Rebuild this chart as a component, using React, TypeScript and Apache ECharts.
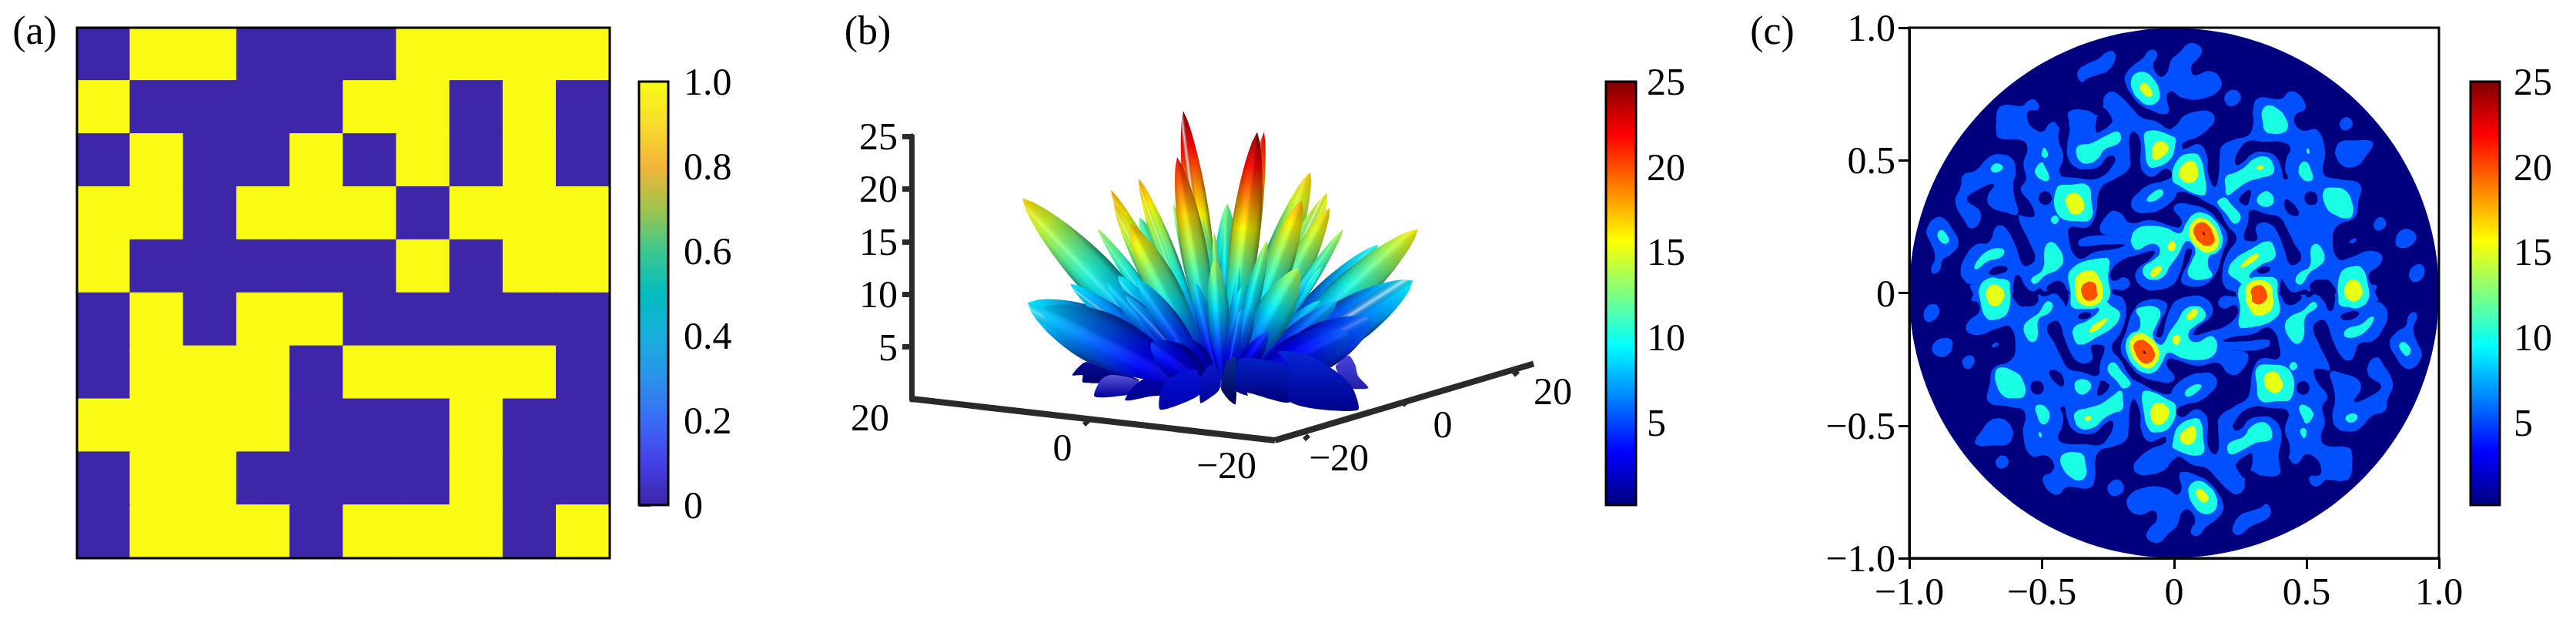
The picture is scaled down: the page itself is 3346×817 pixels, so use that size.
import React, { useEffect, useRef } from "react";
import * as echarts from "echarts";

const FONT = "Liberation Serif";
const INK = "#000000";
const AXIS3D = "#2a2a2a";

/* ---------- panel (a) ---------- */
const matrixRows = [
  [0, 1, 1, 0, 0, 0, 1, 1, 1, 1],
  [1, 0, 0, 0, 0, 1, 1, 0, 1, 0],
  [0, 1, 0, 0, 1, 0, 1, 0, 1, 0],
  [1, 1, 0, 1, 1, 1, 0, 1, 1, 1],
  [1, 0, 0, 0, 0, 0, 1, 0, 1, 1],
  [0, 1, 0, 1, 1, 0, 0, 0, 0, 0],
  [0, 1, 1, 1, 0, 1, 1, 1, 1, 0],
  [1, 1, 1, 1, 0, 0, 0, 1, 0, 0],
  [0, 1, 1, 0, 0, 0, 0, 1, 0, 0],
  [0, 1, 1, 1, 0, 1, 1, 1, 0, 1],
];
const matrixIndex = ["0", "1", "2", "3", "4", "5", "6", "7", "8", "9"];
const cellColors = ["#3e26a8", "#f9fb15"];
const parulaStops: [number, string][] = [
  [0, "#3e26a8"], [0.1, "#4540e8"], [0.2, "#3b6cf5"], [0.3, "#2a93e8"], [0.4, "#18aedb"],
  [0.5, "#03bcbe"], [0.6, "#3cc78f"], [0.7, "#a0c34c"], [0.8, "#f2b53a"], [0.9, "#f8dc2c"], [1, "#f9fb15"],
];
const jetStops: [number, string][] = [
  [0, "#00007f"], [0.125, "#0000ff"], [0.375, "#00ffff"], [0.625, "#ffff00"], [0.875, "#ff0000"], [1, "#7f0000"],
];

/* ---------- panel (b): lobes [projected x, height, width, peak value, gloss], back to front ---------- */
const lobes: number[][] = [
  [1790, 14.7, 40, 10, 0.2], [1842, 16.2, 48, 16, 0.12], [1835, 11.3, 60, 9, 0.6], [1335, 9.2, 70, 9, 0.35],
  [1328, 19.1, 52, 16.5, 0.18], [1480, 17.3, 34, 12, 0.06], [1594, 18.6, 34, 12.5, 0.06], [1537, 27.4, 32, 25, 0.8],
  [1642, 25.4, 26, 23, 0.4], [1524, 18.6, 14, 14, 0.15], [1443, 19.9, 24, 18, 0.2], [1447, 18.6, 30, 17, 0.3],
  [1479, 21, 26, 18, 0.35], [1426, 16.2, 20, 13.5, 0.3], [1702, 21.6, 40, 17, 0.15], [1724, 19.6, 36, 16, 0.5],
  [1727, 18.2, 36, 17, 0.08], [1745, 16.2, 20, 14, 0.2], [1635, 16.2, 12, 13, 0.25], [1562, 17.3, 16, 14, 0.2],
  [1577, 15.9, 14, 14, 0.08], [1593, 17.6, 16, 13, 0.06], [1529, 23, 34, 22, 0.04], [1633, 25.4, 38, 25, 0.03],
  [1691, 18.9, 40, 18, 0.04], [1646, 15.1, 22, 14, 0.03], [1468, 16.7, 42, 17.5, 0.03], [1390, 11, 30, 9, 0.4],
  [1452, 11.8, 30, 9.5, 0.3], [1438, 11.1, 30, 9, 0.12], [1462, 9.9, 20, 8, 0.3], [1478, 11.4, 32, 9, 0.12],
  [1352, 8.7, 68, 8.5, 0.05], [1553, 11.1, 22, 9, 0.08], [1718, 12.7, 16, 11, 0.4], [1708, 12.6, 14, 10, 0.4],
  [1715, 9.4, 30, 9, 0.05], [1737, 9.4, 30, 8, 0.05], [1783, 7.6, 60, 6, 0.25], [1752, 6.3, 60, 5.5, 0.03],
  [1687, 12.5, 48, 14, 0.02], [1578, 13.4, 28, 14, 0.02], [1610, 12.6, 12, 11, 0.03], [1613, 10.7, 22, 10, 0.03],
  [1627, 9.6, 24, 9, 0.03], [1612, 8.6, 14, 8, 0.2], [1647, 6.4, 24, 5, 0.03], [1527, 5.9, 40, 5, 0.03], [1495, 5.4, 45, 4.5, 0.03],
];
/* low fan-shaped petals, read in 3x crop units of the picture; [top colour, bottom colour, outline] */
const fanBack: [string, string, number[][]][] = [
  ["#4a44e0", "#2020a8", [[1245, 375], [1295, 335], [1320, 370], [1332, 415], [1372, 462], [1290, 458], [1250, 395]]],
  ["#0b0b9c", "#00006e", [[218, 412], [275, 360], [480, 430], [440, 440], [260, 440], [258, 412]]],
  ["#5a55d8", "#00009a", [[305, 495], [330, 430], [370, 410], [470, 430], [500, 470], [430, 490]]],
  ["#0505b8", "#00008a", [[425, 510], [450, 465], [490, 430], [590, 390], [600, 480], [520, 495]]],
];
const fanFront: [string, string, number[][]][] = [
  ["#0612d8", "#0000a8", [[560, 545], [565, 470], [620, 410], [700, 390], [720, 480], [640, 525]]],
  ["#0a18c8", "#00009a", [[717, 520], [720, 420], [760, 370], [795, 400], [790, 470], [740, 510]]],
  ["#0a3090", "#00005a", [[800, 440], [820, 360], [855, 340], [855, 525], [830, 510], [800, 470]]],
  ["#0420c8", "#00007a", [[855, 470], [870, 350], [1050, 370], [1068, 400], [1068, 517], [900, 480], [903, 492]]],
  ["#0626d8", "#00008a", [[1068, 517], [1060, 370], [1020, 320], [1130, 330], [1250, 400], [1310, 460], [1330, 548]]],
];
const floorAxes = [[1184, 0.07, 1656, -3.87], [1656, -3.87, 1992, 3.4]];
const floorTicks = [[1414, -2, 1408, -2.4], [1700, -3.4, 1694, -3.8], [1828, -0.15, 1822, -0.55], [1972, 2.7, 1966, 2.3]];
const floorLabels: [number, number, string][] = [
  [1130, -1.7, "20"], [1380, -4.55, "0"], [1593, -6.2, "−20"], [1739, -5.5, "−20"], [1874, -2.35, "0"], [2017, 0.8, "20"],
];

/* ---------- panel (c): contour regions, in 3x crop units.
   The field in the picture is point-symmetric about the origin, so the upper half is read
   and the lower half is its mirror through (0,0). ---------- */
const tileNW = [2470, 30];
const tileNE = [2820, 30];
const tileC = [2660, 230];

const blueNW: number[][][] = [
  [[690, 185], [720, 163], [765, 143], [805, 113], [830, 118], [832, 145], [805, 187], [760, 205], [725, 218], [702, 232], [686, 210]],
  [[965, 110], [992, 112], [995, 135], [980, 165], [998, 205], [1020, 210], [1050, 172], [1085, 138], [1085, 268], [1050, 268], [1033, 290], [1042, 345], [1025, 357], [980, 345], [930, 320], [895, 280], [872, 235], [872, 205], [900, 170], [940, 140]],
  [[368, 400], [375, 340], [400, 322], [470, 325], [490, 308], [515, 300], [535, 322], [530, 340], [495, 345], [490, 375], [510, 410], [550, 425], [575, 395], [595, 388], [617, 410], [650, 400], [652, 348], [720, 342], [765, 360], [785, 330], [790, 290], [820, 270], [850, 285], [895, 330], [935, 370], [990, 385], [1050, 418], [1085, 400], [1085, 1085], [280, 1085], [285, 1030], [250, 1010], [230, 970], [250, 910], [290, 865], [340, 855], [365, 800], [380, 790], [405, 800], [440, 860], [470, 940], [490, 948], [520, 920], [500, 860], [455, 755], [490, 757], [515, 755], [515, 730], [500, 700], [465, 650], [485, 610], [475, 550], [490, 490], [470, 460], [380, 450], [368, 420]],
  [[240, 595], [290, 575], [340, 525], [380, 513], [430, 530], [445, 580], [435, 630], [440, 680], [452, 745], [400, 738], [345, 715], [335, 680], [360, 630], [300, 650], [255, 690], [305, 735], [300, 785], [270, 802], [250, 780], [210, 700], [230, 640]],
  [[100, 800], [125, 765], [160, 760], [195, 800], [222, 860], [195, 900], [160, 925], [148, 965], [125, 978], [115, 960], [130, 915], [115, 860], [98, 825]],
];
const blueNE: number[][][] = [
  [[-5, 160], [40, 110], [65, 85], [95, 83], [120, 105], [110, 135], [80, 170], [90, 205], [150, 190], [190, 215], [190, 260], [130, 295], [50, 295], [0, 265], [-5, 265]],
  [[208, 290], [225, 268], [255, 265], [272, 290], [260, 315], [235, 327], [215, 315]],
  [[658, 390], [672, 373], [695, 372], [708, 395], [695, 415], [675, 420], [660, 408]],
  [[640, 500], [660, 465], [720, 460], [775, 460], [788, 475], [760, 520], [730, 555], [690, 565], [660, 550], [642, 520]],
  [[790, 785], [805, 762], [825, 760], [838, 785], [825, 805], [805, 810], [792, 800]],
  [[875, 850], [890, 815], [925, 805], [955, 830], [940, 865], [905, 878], [880, 870]],
  [[928, 975], [945, 950], [975, 942], [988, 970], [975, 1000], [950, 1010], [932, 1000]],
  [[695, 852], [718, 840], [722, 850], [702, 860]],
  [[-5, 430], [25, 395], [50, 365], [110, 345], [155, 350], [170, 378], [150, 410], [105, 445], [55, 465], [15, 500], [60, 490], [110, 475], [140, 520], [145, 590], [170, 640], [185, 600], [190, 520], [200, 480], [250, 455], [300, 440], [320, 400], [320, 340], [340, 295], [430, 297], [460, 270], [490, 275], [520, 310], [520, 340], [490, 355], [480, 385], [510, 420], [570, 420], [600, 500], [595, 590], [650, 610], [735, 630], [730, 700], [715, 760], [650, 790], [630, 840], [650, 920], [700, 915], [770, 890], [820, 905], [815, 940], [770, 985], [790, 1040], [800, 1085], [-5, 1085]],
];
const navyNW: number[][][] = [
  [[635, 380], [617, 410], [612, 460], [630, 520], [618, 590], [680, 605], [770, 605], [830, 545], [826, 520], [800, 525], [770, 560], [720, 572], [680, 565], [650, 530], [645, 480], [655, 420], [650, 395]],
  [[765, 358], [757, 425], [775, 425], [820, 388], [815, 365], [785, 332]],
  [[535, 680], [548, 660], [570, 660], [585, 680], [580, 700], [560, 710], [540, 700]],
  [[342, 970], [370, 950], [405, 950], [412, 965], [385, 978], [350, 982]],
  [[442, 990], [460, 985], [478, 1020], [510, 1048], [540, 1035], [550, 1056], [445, 1056]],
  [[565, 1040], [590, 1010], [625, 1010], [645, 1040], [655, 1056], [610, 1050]],
];
const navyNE: number[][][] = [
  [[250, 530], [270, 490], [300, 462], [360, 465], [440, 468], [465, 490], [450, 530], [445, 575], [455, 605], [440, 610], [430, 570], [410, 525], [370, 505], [320, 510], [280, 545], [255, 555]],
  [[265, 690], [285, 662], [310, 655], [305, 695], [295, 712], [275, 705]],
  [[520, 682], [530, 662], [555, 660], [570, 680], [565, 705], [540, 710], [525, 700]],
  [[445, 690], [470, 700], [497, 735], [495, 752], [465, 748], [445, 725]],
  [[310, 732], [370, 745], [425, 760], [450, 800], [480, 860], [507, 910], [490, 940], [462, 940], [440, 880], [410, 810], [385, 785], [350, 780], [330, 800], [335, 845], [295, 850], [283, 835], [300, 780]],
  [[335, 965], [360, 952], [385, 955], [380, 970], [350, 978]],
  [[432, 998], [445, 1020], [475, 1050], [520, 1040], [540, 1050], [545, 1056], [432, 1056]],
  [[545, 1015], [600, 1000], [630, 1020], [640, 1056], [555, 1056]],
];
const navyC: number[][][] = [
  [[335, -175], [360, -140], [362, -40], [380, -10], [410, 0], [460, -30], [485, -5], [450, 18], [400, 30], [355, 60], [325, 100], [340, 135], [380, 142], [435, 130], [490, 90], [510, 60], [560, 70], [620, 100], [660, 125], [700, 190], [735, 240], [700, 300], [680, 370], [690, 430], [730, 450], [732, 456], [500, 456], [258, 456], [252, 450], [252, 440], [300, 440], [320, 412], [295, 392], [265, 405], [248, 400], [245, 370], [290, 325], [350, 305], [415, 290], [400, 320], [350, 360], [343, 400], [380, 437], [420, 442], [480, 425], [505, 395], [525, 340], [540, 285], [558, 282], [560, 300], [545, 340], [520, 395], [530, 420], [600, 425], [650, 385], [680, 300], [700, 235], [670, 180], [620, 130], [560, 110], [510, 105], [490, 125], [520, 170], [515, 195], [490, 195], [400, 170], [320, 180], [280, 140], [240, 140], [205, 215], [295, 232], [205, 228], [125, 245], [125, 270], [210, 265], [300, 265], [270, 280], [180, 295], [130, 320], [100, 300], [85, 260], [85, 200], [150, 198], [175, 175], [190, 130], [195, 80], [210, 40], [260, 10], [315, -30], [320, -80], [318, -150]],
];
const cyanNW: number[][][] = [
  [[895, 225], [915, 198], [950, 195], [985, 225], [1005, 270], [1000, 305], [965, 322], [925, 300], [900, 265]],
  [[955, 425], [1062, 447], [1065, 480], [1045, 535], [985, 565], [960, 555], [950, 500]],
  [[680, 505], [690, 480], [740, 470], [800, 440], [840, 425], [855, 445], [845, 470], [790, 495], [765, 530], [725, 550], [695, 540]],
  [[348, 568], [365, 550], [390, 555], [393, 570], [375, 583], [355, 582]],
  [[547, 505], [555, 488], [568, 505], [570, 520], [558, 527], [547, 518]],
  [[520, 575], [545, 545], [560, 565], [575, 605], [565, 618], [540, 610], [525, 595]],
  [[605, 645], [660, 632], [725, 635], [740, 700], [740, 760], [700, 775], [610, 750]],
  [[582, 765], [600, 752], [612, 765], [605, 782], [590, 782]],
  [[140, 825], [155, 808], [175, 825], [185, 850], [170, 862], [150, 850]],
  [[283, 955], [305, 915], [345, 885], [390, 880], [400, 895], [385, 915], [335, 930], [295, 960]],
  [[505, 1000], [550, 960], [558, 880], [580, 855], [610, 875], [630, 925], [610, 960], [560, 985], [520, 1018]],
  [[305, 1045], [320, 1012], [370, 1000], [415, 1005], [422, 1035], [415, 1125], [375, 1155], [330, 1145], [305, 1075]],
];
const cyanNE: number[][][] = [
  [[215, 600], [250, 585], [285, 565], [325, 530], [375, 525], [400, 560], [395, 590], [350, 605], [300, 620], [255, 650], [220, 672], [212, 640]],
  [[335, 690], [360, 660], [385, 662], [400, 690], [390, 712], [355, 715]],
  [[355, 345], [380, 323], [420, 340], [445, 370], [455, 410], [435, 430], [385, 432], [365, 420], [358, 390]],
  [[528, 500], [533, 490], [540, 505], [535, 512]],
  [[497, 575], [510, 545], [530, 545], [545, 575], [552, 610], [530, 618], [505, 600]],
  [[595, 655], [640, 643], [680, 655], [705, 700], [708, 745], [690, 763], [640, 750], [605, 720]],
  [[5, 610], [30, 530], [90, 510], [115, 530], [130, 590], [135, 665], [110, 672], [40, 640]],
  [[-5, 445], [10, 450], [15, 480], [0, 525], [-5, 525]],
  [[485, 1000], [500, 975], [540, 950], [545, 880], [565, 862], [590, 885], [597, 925], [575, 950], [540, 975], [510, 1018], [490, 1015]],
  [[655, 1000], [680, 965], [740, 953], [770, 1040], [770, 1075], [745, 1105], [700, 1110], [657, 1075]],
];
const cyanC: number[][][] = [
  [[385, 90], [410, 62], [440, 50], [450, 65], [425, 90], [395, 98]],
  [[95, 370], [130, 350], [232, 320], [235, 395], [240, 470], [200, 505], [170, 515], [110, 505], [95, 455]],
  [[703, 365], [725, 325], [790, 283], [860, 252], [885, 285], [880, 320], [830, 345], [785, 385], [800, 400], [885, 395], [895, 450], [893, 545], [755, 590], [752, 560], [765, 440], [740, 405], [710, 385]],
  [[325, 240], [345, 205], [395, 192], [460, 200], [515, 220], [540, 180], [570, 145], [610, 143], [650, 170], [675, 215], [680, 260], [660, 295], [630, 310], [625, 350], [640, 385], [610, 400], [565, 398], [545, 375], [560, 330], [575, 290], [555, 255], [535, 255], [510, 300], [475, 350], [450, 390], [405, 402], [375, 385], [372, 355], [410, 325], [435, 300], [430, 270], [400, 262], [350, 285], [330, 270]],
  [[662, 95], [690, 82], [715, 110], [750, 150], [745, 175], [725, 182], [695, 145], [665, 110]],
];
const yellowNW: number[][][] = [
  [[928, 250], [945, 237], [965, 250], [977, 280], [960, 290], [935, 270]],
  [[978, 490], [1000, 463], [1030, 470], [1040, 495], [1020, 520], [985, 535]],
  [[638, 690], [660, 665], [690, 670], [712, 710], [700, 740], [665, 745], [645, 715]],
  [[332, 1055], [350, 1030], [385, 1030], [400, 1060], [385, 1095], [365, 1105], [342, 1090]],
];
const yellowNE: number[][][] = [
  [[335, 565], [350, 555], [360, 565], [345, 575]],
  [[30, 590], [50, 550], [85, 540], [105, 580], [95, 615], [65, 625], [40, 610]],
  [[678, 1050], [695, 1012], [725, 1005], [745, 1040], [745, 1060], [720, 1085], [695, 1080]],
];
const yellowC: number[][][] = [
  [[110, 470], [118, 420], [140, 380], [170, 365], [195, 385], [210, 440], [212, 475], [185, 500], [140, 500]],
  [[550, 210], [570, 170], [600, 160], [640, 185], [665, 235], [660, 275], [625, 297], [595, 285], [560, 250]],
  [[468, 270], [480, 250], [497, 262], [495, 282], [480, 290], [468, 280]],
  [[400, 380], [415, 355], [440, 350], [442, 365], [425, 385], [408, 392]],
  [[770, 470], [785, 430], [820, 405], [855, 415], [875, 460], [875, 510], [850, 535], [815, 540], [785, 510]],
  [[750, 350], [790, 310], [820, 300], [815, 320], [770, 350], [755, 355]],
];
const orangeC: number[][][] = [
  [[133, 445], [145, 418], [170, 410], [190, 445], [192, 465], [170, 482], [145, 478]],
  [[568, 205], [590, 180], [620, 185], [645, 225], [648, 255], [620, 270], [590, 255], [572, 230]],
  [[795, 470], [805, 435], [830, 425], [852, 450], [850, 480], [825, 495], [800, 490]],
];
const darkC: number[][][] = [[[603, 215], [610, 218], [612, 227], [605, 225]]];

const axisTicksC = [-1, -0.5, 0, 0.5, 1];
const barTicksJet = [5, 10, 15, 20, 25];
const barRangeJet = [0.16, 25];

const LEVEL = { blue: "#0050ff", navy: "#00007f", cyan: "#1affe3", yellow: "#e6ff14", orange: "#ff5000", dark: "#7f0000" };

function toData(tile: number[], pts: number[][]) {
  return pts.map(([u, v]) => [(tile[0] + u / 3 - 2824) / 344, (381 - tile[1] - v / 3) / 344]);
}
function layer(color: string, groups: [number[], number[][][]][]) {
  const out: { color: string; pts: number[][] }[] = [];
  groups.forEach(([tile, polys]) =>
    polys.forEach((p) => {
      const d = toData(tile, p);
      out.push({ color, pts: d });
      out.push({ color, pts: d.map(([x, y]) => [-x, -y]) });
    })
  );
  return out;
}
const contourRegions = [
  ...layer(LEVEL.blue, [[tileNW, blueNW], [tileNE, blueNE]]),
  ...layer(LEVEL.navy, [[tileNW, navyNW], [tileNE, navyNE], [tileC, navyC]]),
  ...layer(LEVEL.cyan, [[tileNW, cyanNW], [tileNE, cyanNE], [tileC, cyanC]]),
  ...layer(LEVEL.yellow, [[tileNW, yellowNW], [tileNE, yellowNE], [tileC, yellowC]]),
  ...layer(LEVEL.orange, [[tileC, orangeC]]),
  ...layer(LEVEL.dark, [[tileC, darkC]]),
];

function jet(t: number) {
  const c = (h: string) => [parseInt(h.slice(1, 3), 16), parseInt(h.slice(3, 5), 16), parseInt(h.slice(5, 7), 16)];
  const v = Math.max(0, Math.min(1, t));
  for (let i = 1; i < jetStops.length; i++) {
    if (v <= jetStops[i][0]) {
      const [a, ca] = jetStops[i - 1];
      const [b, cb] = jetStops[i];
      const k = (v - a) / (b - a);
      const A = c(ca), B = c(cb);
      return `rgb(${A.map((x, j) => Math.round(x + (B[j] - x) * k)).join(",")})`;
    }
  }
  return jetStops[jetStops.length - 1][1];
}
function gradStops(stops: [number, string][]) {
  return stops.map(([offset, color]) => ({ offset, color }));
}
function axisFont(size = 50) {
  return { fontFamily: FONT, fontSize: size, color: INK };
}
const signedLabel = (v: number) => (v === 0 ? "0" : v < 0 ? "−" + Math.abs(v).toFixed(1) : v.toFixed(1));

function barSeries(xi: number, yi: number, lo: number, hi: number, stops: [number, string][]) {
  return {
    type: "custom", xAxisIndex: xi, yAxisIndex: yi, silent: true, data: [[0]],
    renderItem: (_p: any, api: any) => {
      const a = api.coord([0, lo]);
      const b = api.coord([1, hi]);
      return {
        type: "rect",
        shape: { x: a[0], y: b[1], width: b[0] - a[0], height: a[1] - b[1] },
        style: { fill: new echarts.graphic.LinearGradient(0, 1, 0, 0, gradStops(stops)), stroke: INK, lineWidth: 3 },
      };
    },
  };
}
function barAxes(gridIndex: number, lo: number, hi: number, ticks: number[], fmt: (v: number) => string, margin: number) {
  return {
    x: { type: "value", gridIndex, min: 0, max: 1, show: false },
    y: {
      type: "value", gridIndex, min: lo, max: hi, position: "right", splitLine: { show: false },
      axisLine: { show: false },
      axisTick: { show: true, length: 15, lineStyle: { color: INK, width: 3 }, customValues: ticks },
      axisLabel: { ...axisFont(), margin, formatter: fmt, customValues: ticks },
    },
  };
}
function lobeShape(api: any, l: number[]) {
  const [tx, tz, W, val, gloss] = l;
  const rootX = 1590 + 0.1 * (tx - 1590);
  const root = api.coord([rootX, 1]);
  const tip = api.coord([tx, tz]);
  const dx = tip[0] - root[0], dy = tip[1] - root[1];
  const len = Math.hypot(dx, dy);
  const nx = -dy / len, ny = dx / len;
  const c = 0.6;
  const half = (t: number) => {
    if (t < c) return (W / 2) * Math.pow(Math.sin((Math.PI / 2) * (t / c)), 1.25);
    const u = (t - c) / (1 - c);
    return (W / 2) * Math.pow(1 - Math.pow(u, 1.7), 0.72);
  };
  const n = 26;
  const left: number[][] = [], right: number[][] = [];
  for (let i = 0; i <= n; i++) {
    const t = i / n;
    const w = half(t);
    const px = root[0] + dx * t, py = root[1] + dy * t;
    left.push([px + nx * w, py + ny * w]);
    right.unshift([px - nx * w, py - ny * w]);
  }
  const points = left.concat(right);
  const along: { offset: number; color: string }[] = [];
  for (let i = 0; i <= 8; i++) along.push({ offset: i / 8, color: jet((val * (i / 8)) / 25) });
  const fill = new echarts.graphic.LinearGradient(root[0], root[1], tip[0], tip[1], along, true);
  const mx = root[0] + dx * c, my = root[1] + dy * c;
  const white = (a: number) => `rgba(255,255,255,${a})`;
  const body = Math.max(0, 0.2 - gloss * 0.5);
  const shade = new echarts.graphic.LinearGradient(
    mx + nx * (W / 2), my + ny * (W / 2), mx - nx * (W / 2), my - ny * (W / 2),
    [
      { offset: 0, color: "rgba(0,0,0,0.55)" },
      { offset: 0.18, color: `rgba(0,0,0,${body + 0.12})` },
      { offset: 0.45, color: `rgba(0,0,0,${body})` },
      { offset: 0.6, color: white(gloss) },
      { offset: 0.76, color: `rgba(0,0,0,${body * 0.6})` },
      { offset: 0.92, color: "rgba(0,0,0,0.25)" },
      { offset: 1, color: "rgba(0,0,0,0.5)" },
    ],
    true
  );
  return {
    type: "group",
    children: [
      { type: "polygon", shape: { points }, style: { fill } },
      { type: "polygon", shape: { points }, style: { fill: shade } },
    ],
  };
}
function fanItem(api: any, f: [string, string, number[][]]) {
  const pts = f[2].map(([u, v]) => api.coord([1320 + u / 3, (519 - (350 + v / 3)) / 13.68]));
  return {
    type: "polygon",
    shape: { points: pts, smooth: 0.25 },
    style: { fill: new echarts.graphic.LinearGradient(0, 0, 0, 1, [{ offset: 0, color: f[0] }, { offset: 1, color: f[1] }]) },
  };
}

export default function App() {
  const ref = useRef<HTMLDivElement>(null);
  useEffect(() => {
    if (!ref.current) return;
    const chart = echarts.init(ref.current, null, { renderer: "svg" });
    const heatData: any[] = [];
    matrixRows.forEach((row, r) =>
      row.forEach((v, c) =>
        heatData.push({ value: [c, r, v], itemStyle: { borderColor: cellColors[v], borderWidth: 1 } })
      )
    );
    const barA = barAxes(1, 0, 1, [0, 0.2, 0.4, 0.6, 0.8, 1], (v) => (v === 0 ? "0" : v.toFixed(1)), 20);
    const barB = barAxes(3, barRangeJet[0], barRangeJet[1], barTicksJet, (v) => String(v), 14);
    const barC = barAxes(5, barRangeJet[0], barRangeJet[1], barTicksJet, (v) => String(v), 18);
    const plain = { show: false };
    const option: any = {
      animation: false,
      backgroundColor: "#ffffff",
      textStyle: { fontFamily: FONT },
      grid: [
        { left: 100, top: 36, width: 692, height: 689 },
        { left: 830, top: 106, width: 38, height: 550 },
        { left: 1184, top: 177, width: 816, height: 342 },
        { left: 2086, top: 106, width: 39, height: 550 },
        { left: 2480, top: 36, width: 688, height: 689 },
        { left: 3209, top: 106, width: 38, height: 550 },
      ],
      xAxis: [
        { type: "category", gridIndex: 0, data: matrixIndex, axisLine: plain, axisTick: plain, axisLabel: plain, splitLine: plain },
        barA.x,
        { type: "value", gridIndex: 2, min: 1184, max: 2000, show: false },
        barB.x,
        {
          type: "value", gridIndex: 4, min: -1, max: 1, interval: 0.5, splitLine: plain,
          axisLine: { show: true, onZero: false, lineStyle: { color: INK, width: 3 } },
          axisTick: { show: true, length: 14, lineStyle: { color: INK, width: 3 } },
          axisLabel: { ...axisFont(), margin: 18, formatter: signedLabel, customValues: axisTicksC },
        },
        barC.x,
      ],
      yAxis: [
        { type: "category", gridIndex: 0, inverse: true, data: matrixIndex, axisLine: plain, axisTick: plain, axisLabel: plain, splitLine: plain },
        barA.y,
        {
          type: "value", gridIndex: 2, min: 0, max: 25, splitLine: plain,
          axisLine: { show: true, onZero: false, lineStyle: { color: AXIS3D, width: 7 } },
          axisTick: { show: true, length: 12, lineStyle: { color: AXIS3D, width: 7 }, customValues: barTicksJet },
          axisLabel: { ...axisFont(), margin: 18, customValues: barTicksJet },
        },
        barB.y,
        {
          type: "value", gridIndex: 4, min: -1, max: 1, interval: 0.5, splitLine: plain,
          axisLine: { show: true, onZero: false, lineStyle: { color: INK, width: 3 } },
          axisTick: { show: true, length: 14, lineStyle: { color: INK, width: 3 } },
          axisLabel: { ...axisFont(), margin: 18, formatter: signedLabel, customValues: axisTicksC },
        },
        barC.y,
      ],
      visualMap: [{ show: false, seriesIndex: 0, min: 0, max: 1, inRange: { color: cellColors } }],
      series: [
        { type: "heatmap", xAxisIndex: 0, yAxisIndex: 0, data: heatData, silent: true },
        barSeries(1, 1, 0, 1, parulaStops),
        {
          type: "custom", xAxisIndex: 2, yAxisIndex: 2, silent: true, data: fanBack.map((_, i) => [i]),
          renderItem: (p: any, api: any) => fanItem(api, fanBack[p.dataIndex]),
        },
        {
          type: "custom", xAxisIndex: 2, yAxisIndex: 2, silent: true, data: lobes.map((_, i) => [i]),
          renderItem: (p: any, api: any) => lobeShape(api, lobes[p.dataIndex]),
        },
        {
          type: "custom", xAxisIndex: 2, yAxisIndex: 2, silent: true, data: fanFront.map((_, i) => [i]),
          renderItem: (p: any, api: any) => fanItem(api, fanFront[p.dataIndex]),
        },
        {
          type: "custom", xAxisIndex: 2, yAxisIndex: 2, silent: true, data: floorAxes.map((_, i) => [i]),
          renderItem: (p: any, api: any) => {
            const s = floorAxes[p.dataIndex];
            const a = api.coord([s[0], s[1]]), b = api.coord([s[2], s[3]]);
            return { type: "line", shape: { x1: a[0], y1: a[1], x2: b[0], y2: b[1] }, style: { stroke: AXIS3D, lineWidth: 8 } };
          },
        },
        {
          type: "custom", xAxisIndex: 2, yAxisIndex: 2, silent: true, data: floorTicks.map((_, i) => [i]),
          renderItem: (p: any, api: any) => {
            const s = floorTicks[p.dataIndex];
            const a = api.coord([s[0], s[1]]), b = api.coord([s[2], s[3]]);
            return { type: "line", shape: { x1: a[0], y1: a[1], x2: b[0], y2: b[1] }, style: { stroke: AXIS3D, lineWidth: 6 } };
          },
        },
        {
          type: "custom", xAxisIndex: 2, yAxisIndex: 2, silent: true, data: floorLabels.map((_, i) => [i]),
          renderItem: (p: any, api: any) => {
            const s = floorLabels[p.dataIndex];
            const a = api.coord([s[0], s[1]]);
            return {
              type: "text", x: a[0], y: a[1],
              style: { text: s[2], fontFamily: FONT, fontSize: 50, fill: INK, textAlign: "center", textVerticalAlign: "middle" },
            };
          },
        },
        barSeries(3, 3, barRangeJet[0], barRangeJet[1], jetStops),
        {
          type: "custom", xAxisIndex: 4, yAxisIndex: 4, silent: true, data: [[0, 0]],
          renderItem: (_p: any, api: any) => {
            const c = api.coord([0, 0]);
            const e = api.coord([1, 0]);
            return { type: "circle", shape: { cx: c[0], cy: c[1], r: e[0] - c[0] }, style: { fill: LEVEL.navy } };
          },
        },
        {
          type: "custom", xAxisIndex: 4, yAxisIndex: 4, silent: true, data: contourRegions.map((_, i) => [i]),
          renderItem: (p: any, api: any) => {
            const r = contourRegions[p.dataIndex];
            return {
              type: "polygon",
              shape: { points: r.pts.map((q) => api.coord(q)), smooth: 0.45 },
              style: { fill: r.color },
            };
          },
        },
        barSeries(5, 5, barRangeJet[0], barRangeJet[1], jetStops),
      ],
      graphic: [
        { type: "rect", z: 100, silent: true, shape: { x: 100, y: 36, width: 692, height: 689 }, style: { fill: "transparent", stroke: INK, lineWidth: 3 } },
        { type: "rect", z: 100, silent: true, shape: { x: 2480, y: 36, width: 688, height: 689 }, style: { fill: "transparent", stroke: INK, lineWidth: 3 } },
        ...[["(a)", 45], ["(b)", 1127], ["(c)", 2302]].map(([t, x]) => ({
          type: "text", z: 100, silent: true, x, y: 39,
          style: { text: t, fontFamily: FONT, fontSize: 52, fill: INK, textAlign: "center", textVerticalAlign: "middle" },
        })),
      ],
    };
    chart.setOption(option);
    return () => chart.dispose();
  }, []);
  return <div ref={ref} style={{ position: "absolute", left: 0, top: 0, width: 3346, height: 817 }} />;
}
